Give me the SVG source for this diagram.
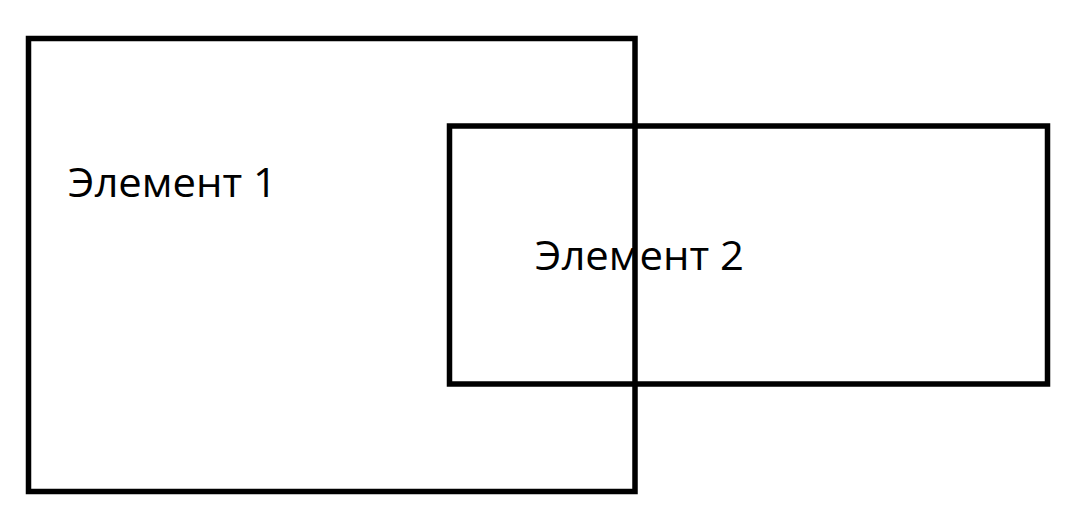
<svg xmlns="http://www.w3.org/2000/svg" width="1071" height="525" viewBox="0 0 1071 525">
<style>
.box{fill:none;stroke:#000;stroke-width:5.5}
.lbl{font-family:"Open Sans","Noto Sans","DejaVu Sans",sans-serif;font-size:41px;fill:#000}
</style>
<rect width="1071" height="525" fill="#fff"/>
<g id="element1">
<rect class="box" x="28.5" y="38.5" width="606.5" height="453"/>
<text class="lbl" x="68" y="197" textLength="209" lengthAdjust="spacingAndGlyphs">Элемент 1</text>
</g>
<g id="element2">
<rect class="box" x="449.5" y="126" width="598" height="258"/>
<text class="lbl" x="535" y="270" textLength="209" lengthAdjust="spacingAndGlyphs">Элемент 2</text>
</g>
<g id="connectors"/>
</svg>
